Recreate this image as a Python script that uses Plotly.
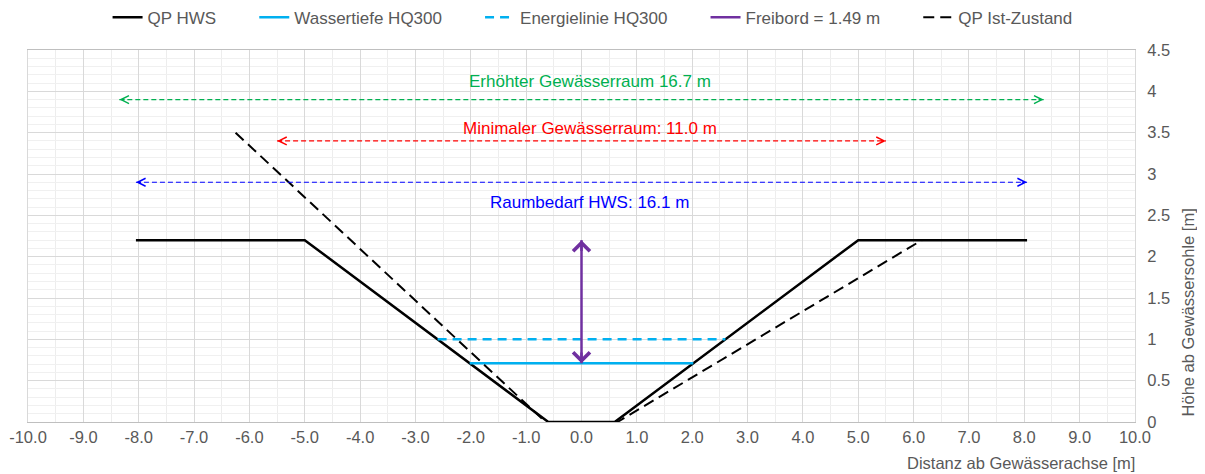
import plotly.graph_objects as go

# QP HWS (Querprofil Hochwasserschutz)
hws_x = [-8.05, -5.0, -0.6, 0.6, 5.0, 8.05]
hws_y = [2.2, 2.2, 0.0, 0.0, 2.2, 2.2]

# QP Ist-Zustand
ist_x = [-6.25, -0.65, 0.65, 6.15]
ist_y = [3.5, 0.0, 0.0, 2.2]

# Wasserspiegel / Energielinie HQ300
wt_x = [-2.02, 2.02]
wt_y = [0.71, 0.71]
el_x = [-2.6, 2.6]
el_y = [1.0, 1.0]

# Freibord
fb_x = [0.0, 0.0]
fb_y = [0.71, 2.2]

# Raumbreiten (Halbbreite, Hoehe, Farbe, Text, Texthoehe)
raum_half = [8.35, 5.5, 8.05]
raum_y = [3.9, 3.4, 2.9]
raum_color = ["#00B050", "#FF0000", "#0000FF"]
raum_text = ["Erhöhter Gewässerraum 16.7 m", "Minimaler Gewässerraum: 11.0 m", "Raumbedarf HWS: 16.1 m"]
raum_text_y = [4.12, 3.55, 2.66]

x_ticks = [v for v in range(-10, 11)]
y_ticks = [0, 0.5, 1, 1.5, 2, 2.5, 3, 3.5, 4, 4.5]

grey = "#595959"
purple = "#7030A0"
blue = "#00B0F0"
pad = "\u00a0" * 7

fig = go.Figure()
fig.add_trace(go.Scatter(x=hws_x, y=hws_y, mode="lines", name="QP HWS" + pad,
                         line=dict(color="black", width=2.5)))
fig.add_trace(go.Scatter(x=wt_x, y=wt_y, mode="lines", name="Wassertiefe HQ300" + pad,
                         line=dict(color=blue, width=2.5)))
fig.add_trace(go.Scatter(x=el_x, y=el_y, mode="lines", name="Energielinie HQ300" + pad,
                         line=dict(color=blue, width=2.5, dash="9px,6px")))
fig.add_trace(go.Scatter(x=fb_x, y=fb_y, mode="lines", name="Freibord = 1.49 m" + pad,
                         line=dict(color=purple, width=2.5)))
fig.add_trace(go.Scatter(x=ist_x, y=ist_y, mode="lines", name="QP Ist-Zustand",
                         line=dict(color="black", width=2, dash="11px,6px")))

annotations = []
for half, yv, col, txt, ty in zip(raum_half, raum_y, raum_color, raum_text, raum_text_y):
    fig.add_trace(go.Scatter(x=[-half, half], y=[yv, yv], mode="lines", showlegend=False,
                             line=dict(color=col, width=1.2, dash="5px,3px"), hoverinfo="skip"))
    for sgn in (-1, 1):
        annotations.append(dict(x=sgn * half, y=yv, ax=sgn * (half - 0.12), ay=yv,
                                xref="x", yref="y", axref="x", ayref="y", text="",
                                showarrow=True, arrowhead=5, arrowsize=1.3,
                                arrowwidth=1.2, arrowcolor=col))
    annotations.append(dict(x=0.15, y=ty, xref="x", yref="y", text=txt, showarrow=False,
                            font=dict(color=col, size=17)))

# Freibord Doppelpfeil
for y0, y1 in ((fb_y[1], fb_y[0]), (fb_y[0], fb_y[1])):
    annotations.append(dict(x=0, y=y0, ax=0, ay=y0 + (y1 - y0) * 0.1, xref="x", yref="y",
                            axref="x", ayref="y", text="", showarrow=True, arrowhead=4,
                            arrowsize=1.3, arrowwidth=2.5, arrowcolor=purple))

annotations.append(dict(x=1.002, y=-0.11, xref="paper", yref="paper", xanchor="right",
                        yanchor="middle", text="Distanz ab Gewässerachse [m]",
                        showarrow=False, font=dict(color=grey, size=16.5)))
annotations.append(dict(x=1.048, y=0.01, xref="paper", yref="paper", xanchor="center",
                        yanchor="bottom", textangle=-90, text="Höhe ab Gewässersohle [m]",
                        showarrow=False, font=dict(color=grey, size=16.5)))

# page body has an 8px margin, so the figure is sized/shifted to compensate
fig.update_layout(
    width=1197, height=466,
    paper_bgcolor="white", plot_bgcolor="white",
    font=dict(family="Liberation Sans, Arial, sans-serif", color=grey, size=16.5),
    margin=dict(l=20, r=70, t=42, b=52, autoexpand=False),
    showlegend=True,
    legend=dict(orientation="h", x=0.51, xanchor="center", y=0.979, yanchor="middle",
                yref="container", font=dict(size=17, color=grey),
                bgcolor="rgba(0,0,0,0)"),
    annotations=annotations,
)

fig.update_xaxes(range=[-10, 10], tickvals=x_ticks, ticktext=[f"{v:.1f}" for v in x_ticks],
                 showgrid=True, gridcolor="#D9D9D9", gridwidth=1,
                 minor=dict(dtick=0.5, showgrid=True, gridcolor="#EDEDED"),
                 showline=True, linecolor="#BFBFBF", mirror=True, zeroline=False,
                 ticks="", tickfont=dict(size=16.5, color=grey))
fig.update_yaxes(range=[0, 4.5], side="right", tickvals=y_ticks,
                 ticktext=[f"{v:g}" for v in y_ticks],
                 showgrid=True, gridcolor="#D9D9D9", gridwidth=1,
                 minor=dict(dtick=0.1, showgrid=True, gridcolor="#F0F0F0"),
                 showline=True, linecolor="#D9D9D9", mirror=True, zeroline=False,
                 ticks="", ticklabelstandoff=8, tickfont=dict(size=16.5, color=grey))

fig.write_html("out.html")
